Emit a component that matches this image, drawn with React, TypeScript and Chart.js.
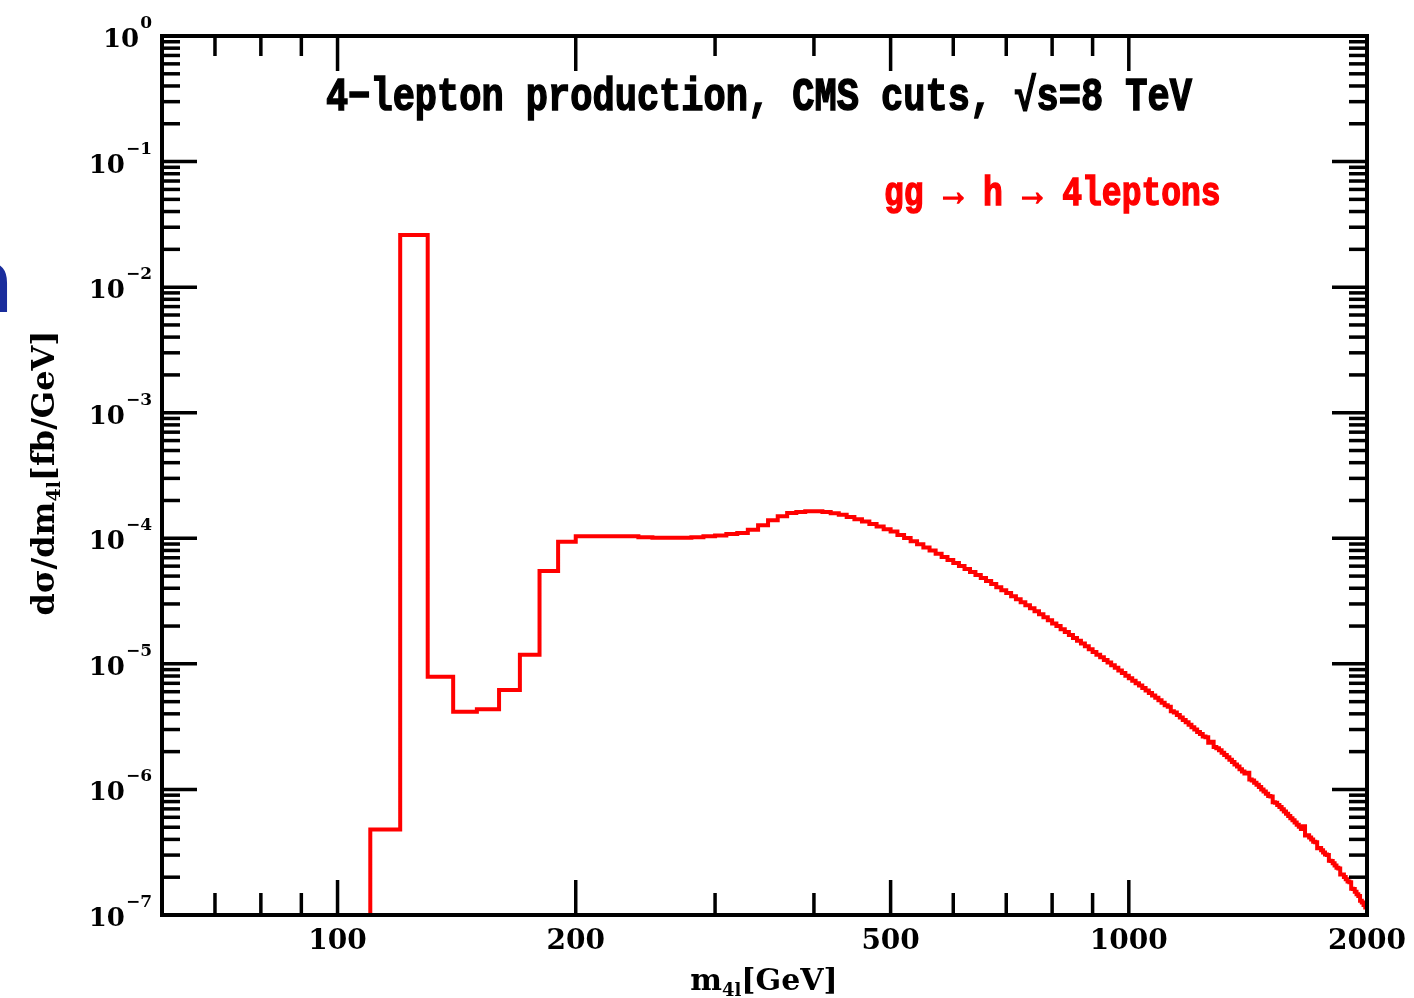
import React, { useEffect, useRef } from "react";
import { Chart, registerables } from "chart.js";

Chart.register(...registerables);

// Histogram: 10 GeV bins starting at 100 GeV (first bin lies below the axis range)
const BIN_START = 100;
const BIN_WIDTH = 10;
const X_END = 2000;

const BIN_VALUES: number[] = [
  // 100 - 190
  2e-8, 4.8e-7, 2.6e-2, 7.9e-6, 4.15e-6, 4.35e-6, 6.2e-6, 1.18e-5, 5.5e-5, 9.4e-5,
  // 200 - 290
  1.04e-4, 1.04e-4, 1.04e-4, 1.04e-4, 1.02e-4, 1.01e-4, 1.01e-4, 1.01e-4, 1.02e-4, 1.04e-4,
  // 300 - 390
  1.05e-4, 1.08e-4, 1.1e-4, 1.17e-4, 1.27e-4, 1.39e-4, 1.5e-4, 1.59e-4, 1.62e-4, 1.64e-4,
  // 400 - 490
  1.64e-4, 1.62e-4, 1.58e-4, 1.54e-4, 1.48e-4, 1.42e-4, 1.36e-4, 1.3e-4, 1.24e-4, 1.18e-4,
  // 500 - 590
  1.13e-4, 1.06e-4, 1.005e-4, 9.48e-5, 8.95e-5, 8.45e-5, 7.98e-5, 7.53e-5, 7.11e-5, 6.71e-5,
  // 600 - 690
  6.35e-5, 6.01e-5, 5.69e-5, 5.38e-5, 5.09e-5, 4.82e-5, 4.56e-5, 4.32e-5, 4.08e-5, 3.86e-5,
  // 700 - 790
  3.66e-5, 3.46e-5, 3.27e-5, 3.1e-5, 2.93e-5, 2.77e-5, 2.62e-5, 2.48e-5, 2.35e-5, 2.22e-5,
  // 800 - 890
  2.1e-5, 2.0e-5, 1.89e-5, 1.79e-5, 1.7e-5, 1.61e-5, 1.53e-5, 1.45e-5, 1.38e-5, 1.31e-5,
  // 900 - 990
  1.243e-5, 1.184e-5, 1.128e-5, 1.075e-5, 1.024e-5, 9.76e-6, 9.3e-6, 8.86e-6, 8.44e-6, 8.04e-6,
  // 1000 - 1090
  7.68e-6, 7.34e-6, 7.02e-6, 6.71e-6, 6.42e-6, 6.13e-6, 5.86e-6, 5.61e-6, 5.36e-6, 5.12e-6,
  // 1100 - 1190
  4.9e-6, 4.68e-6, 4.55e-6, 4.2e-6, 4.09e-6, 3.91e-6, 3.74e-6, 3.58e-6, 3.42e-6, 3.27e-6,
  // 1200 - 1290
  3.13e-6, 3.0e-6, 2.87e-6, 2.76e-6, 2.64e-6, 2.6e-6, 2.35e-6, 2.4e-6, 2.18e-6, 2.13e-6,
  // 1300 - 1390
  2.05e-6, 1.96e-6, 1.88e-6, 1.8e-6, 1.72e-6, 1.65e-6, 1.58e-6, 1.52e-6, 1.45e-6, 1.39e-6,
  // 1400 - 1490
  1.34e-6, 1.36e-6, 1.2e-6, 1.18e-6, 1.13e-6, 1.09e-6, 1.045e-6, 1.0e-6, 9.63e-7, 9.24e-7,
  // 1500 - 1590
  8.87e-7, 8.8e-7, 7.9e-7, 7.85e-7, 7.53e-7, 7.23e-7, 6.94e-7, 6.66e-7, 6.39e-7, 6.14e-7,
  // 1600 - 1690
  5.89e-7, 5.67e-7, 5.45e-7, 5.24e-7, 5.04e-7, 4.85e-7, 5.1e-7, 4.3e-7, 4.31e-7, 4.14e-7,
  // 1700 - 1790
  3.99e-7, 3.83e-7, 3.8e-7, 3.4e-7, 3.41e-7, 3.28e-7, 3.15e-7, 3.03e-7, 3.0e-7, 2.7e-7,
  // 1800 - 1890
  2.69e-7, 2.58e-7, 2.48e-7, 2.38e-7, 2.35e-7, 2.1e-7, 2.1e-7, 2.01e-7, 1.93e-7, 1.85e-7,
  // 1900 - 1990
  1.82e-7, 1.62e-7, 1.61e-7, 1.53e-7, 1.46e-7, 1.42e-7, 1.3e-7, 1.26e-7, 1.2e-7, 1.15e-7,
];

const X_MIN = 60;
const X_MAX = 2000;
const Y_MIN = 1e-7;
const Y_MAX = 1;

const X_TICK_LABELS = [100, 200, 500, 1000, 2000];
const X_MAJOR_TICKS = [100, 200, 500, 1000];
const X_MINOR_TICKS = [70, 80, 90, 300, 400, 600, 700, 800, 900];
const Y_EXPONENTS = [0, -1, -2, -3, -4, -5, -6, -7];

const TITLE = "4\u2212lepton production, CMS cuts, \u221As=8 TeV";
const SERIES_LABEL = "gg \u2192 h \u2192 4leptons";

const RED = "#ff0000";
const SERIF = "'DejaVu Serif', serif";
const MONO = "'Liberation Mono', monospace";

const decorPlugin = {
  id: "decor",
  afterDatasetsDraw(chart: any) {
    const { ctx, chartArea: a, scales } = chart;
    const xs = scales.x;
    const ys = scales.y;
    ctx.save();
    ctx.strokeStyle = "#000";
    ctx.fillStyle = "#000";
    ctx.lineCap = "butt";

    const seg = (x1: number, y1: number, x2: number, y2: number) => {
      ctx.beginPath();
      ctx.moveTo(x1, y1);
      ctx.lineTo(x2, y2);
      ctx.stroke();
    };

    // ticks
    ctx.lineWidth = 3.5;
    for (const e of Y_EXPONENTS) {
      for (let m = 1; m <= 9; m++) {
        const v = m * Math.pow(10, e);
        if (v > Y_MAX * 1.0001) break;
        const py = ys.getPixelForValue(v);
        const len = m === 1 ? 35 : 18;
        seg(a.left, py, a.left + len, py);
        seg(a.right, py, a.right - len, py);
      }
    }
    for (const t of X_MAJOR_TICKS) {
      const px = xs.getPixelForValue(t);
      seg(px, a.top, px, a.top + 35);
      seg(px, a.bottom, px, a.bottom - 35);
    }
    for (const t of X_MINOR_TICKS) {
      const px = xs.getPixelForValue(t);
      seg(px, a.top, px, a.top + 20);
      seg(px, a.bottom, px, a.bottom - 22);
    }

    // frame
    ctx.lineWidth = 4;
    ctx.strokeRect(a.left, a.top, a.right - a.left, a.bottom - a.top);

    // y tick labels
    for (const e of Y_EXPONENTS) {
      const py = ys.getPixelForValue(Math.pow(10, e));
      const sup = e === 0 ? "0" : "\u2212" + String(-e);
      ctx.font = `bold 17px ${SERIF}`;
      const supW = ctx.measureText(sup).width;
      const right = a.left - 10;
      ctx.textAlign = "left";
      ctx.textBaseline = "alphabetic";
      ctx.fillText(sup, right - supW, py - 8);
      ctx.font = `bold 26px ${SERIF}`;
      ctx.textAlign = "right";
      ctx.fillText("10", right - supW - 1, py + 11);
    }

    // x tick labels
    ctx.font = `bold 28px ${SERIF}`;
    ctx.textAlign = "center";
    ctx.textBaseline = "alphabetic";
    for (const t of X_TICK_LABELS) {
      const px = xs.getPixelForValue(t);
      ctx.fillText(String(t), px, a.bottom + 34);
    }

    // x axis title: m_{4l}[GeV]
    {
      const big = `bold 30px ${SERIF}`;
      const small = `bold 18px ${SERIF}`;
      ctx.font = big;
      const wM = ctx.measureText("m").width;
      const wRest = ctx.measureText("[GeV]").width;
      ctx.font = small;
      const wSub = ctx.measureText("4l").width;
      const total = wM + wSub + wRest;
      const cx = 764;
      const x0 = cx - total / 2;
      const base = 990;
      ctx.textAlign = "left";
      ctx.font = big;
      ctx.fillText("m", x0, base);
      ctx.font = small;
      ctx.fillText("4l", x0 + wM, base + 6);
      ctx.font = big;
      ctx.fillText("[GeV]", x0 + wM + wSub, base);
    }

    // y axis title: dσ/dm_{4l}[fb/GeV]
    {
      ctx.save();
      const big = `bold 32px ${SERIF}`;
      const small = `bold 19px ${SERIF}`;
      ctx.font = big;
      const w1 = ctx.measureText("d\u03C3/dm").width;
      const w3 = ctx.measureText("[fb/GeV]").width;
      ctx.font = small;
      const w2 = ctx.measureText("4l").width;
      const total = w1 + w2 + w3;
      ctx.translate(54, 473);
      ctx.rotate(-Math.PI / 2);
      ctx.textAlign = "left";
      const x0 = -total / 2;
      ctx.font = big;
      ctx.fillText("d\u03C3/dm", x0, 0);
      ctx.font = small;
      ctx.fillText("4l", x0 + w1, 6);
      ctx.font = big;
      ctx.fillText("[fb/GeV]", x0 + w1 + w2, 0);
      ctx.restore();
    }

    // in-plot title
    {
      ctx.save();
      ctx.font = `bold 37px ${MONO}`;
      ctx.textAlign = "center";
      ctx.lineWidth = 1.2;
      ctx.strokeStyle = "#000";
      ctx.translate(759, 110);
      ctx.scale(1, 1.25);
      ctx.fillText(TITLE, 0, 0);
      ctx.strokeText(TITLE, 0, 0);
      ctx.restore();
    }

    // series label
    {
      ctx.save();
      ctx.font = `bold 33px ${MONO}`;
      ctx.fillStyle = RED;
      ctx.strokeStyle = RED;
      ctx.lineWidth = 1.2;
      ctx.textAlign = "left";
      ctx.translate(884, 205);
      ctx.scale(1, 1.25);
      ctx.fillText(SERIES_LABEL, 0, 0);
      ctx.strokeText(SERIES_LABEL, 0, 0);
      ctx.restore();
    }

    // cropped blue fragment at left edge
    {
      ctx.save();
      ctx.fillStyle = "#1a2d9c";
      ctx.font = `bold 88px 'DejaVu Sans', sans-serif`;
      ctx.textAlign = "right";
      ctx.fillText("n", 14, 312);
      ctx.restore();
    }

    ctx.restore();
  },
};

export default function App() {
  const canvasRef = useRef<HTMLCanvasElement | null>(null);

  useEffect(() => {
    if (!canvasRef.current) return;
    const points = BIN_VALUES.map((v, i) => ({ x: BIN_START + i * BIN_WIDTH, y: v }));
    points.push({ x: X_END, y: BIN_VALUES[BIN_VALUES.length - 1] });

    const chart = new Chart(canvasRef.current, {
      type: "line",
      data: {
        datasets: [
          {
            label: SERIES_LABEL,
            data: points,
            stepped: "before",
            borderColor: RED,
            borderWidth: 4,
            pointRadius: 0,
            fill: false,
            borderJoinStyle: "miter",
          },
        ],
      },
      options: {
        animation: false,
        responsive: false,
        events: [],
        layout: { padding: { left: 162, right: 47, top: 36, bottom: 83 } },
        plugins: { legend: { display: false }, tooltip: { enabled: false }, title: { display: false } },
        scales: {
          x: { type: "logarithmic", min: X_MIN, max: X_MAX, display: false },
          y: { type: "logarithmic", min: Y_MIN, max: Y_MAX, display: false },
        },
      },
      plugins: [decorPlugin],
    } as any);
    return () => chart.destroy();
  }, []);

  return (
    <div style={{ position: "absolute", left: 0, top: 0, width: 1414, height: 998, background: "#fff" }}>
      <canvas ref={canvasRef} width={1414} height={998} style={{ display: "block" }} />
    </div>
  );
}
